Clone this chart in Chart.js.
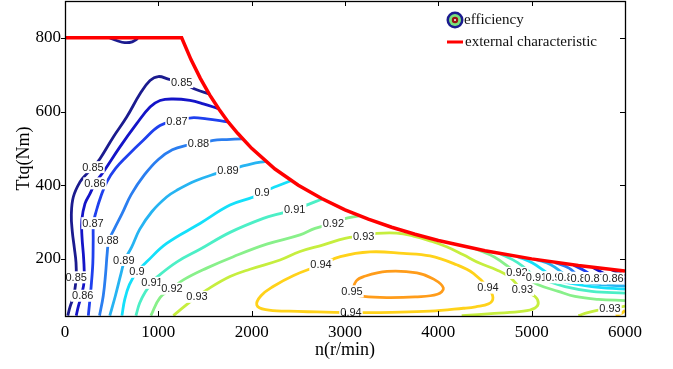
<!DOCTYPE html>
<html>
<head>
<meta charset="utf-8">
<script src="https://cdn.jsdelivr.net/npm/chart.js@4.4.1/dist/chart.umd.min.js"></script>
<style>
html, body { margin: 0; padding: 0; background: #fff; }
#wrap { width: 673px; height: 369px; }
</style>
</head>
<body>
<div id="wrap"><canvas id="effChart" width="673" height="369"></canvas></div>
<script>
// axis ticks
const xTicks = [0, 1000, 2000, 3000, 4000, 5000, 6000];
const yTicks = [200, 400, 600, 800];

// external characteristic (speed r/min, torque Nm)
const externalCurve = [[0, 800], [1250, 800], [1350, 741], [1450, 690], [1550, 645], [1650, 606], [1750, 571],
  [1850, 541], [2000, 500], [2250, 444], [2500, 400], [2750, 364], [3000, 333], [3250, 308], [3500, 286],
  [3750, 267], [4000, 250], [4500, 222], [5000, 200], [5500, 182], [6000, 167]];

// efficiency contour lines, [speed, torque]
const c085Top = [[480, 800], [560, 792], [640, 787], [720, 789], [780, 798]];
const c085 = [[30, 46], [54, 70], [89, 95], [110, 125], [120, 150], [118, 190], [100, 230], [78, 275], [68, 320],
  [89, 368], [161, 409], [230, 430], [300, 449], [375, 472], [518, 531], [661, 585], [804, 648], [911, 684],
  [1000, 695], [1107, 688], [1250, 678], [1411, 659], [1540, 648]];
const c086 = [[120, 46], [143, 71], [175, 100], [205, 140], [200, 200], [182, 260], [180, 305], [214, 350],
  [268, 377], [321, 405], [411, 436], [589, 504], [768, 567], [911, 612], [1018, 630], [1161, 634], [1339, 630],
  [1482, 621], [1640, 608]];
const c087 = [[250, 46], [280, 125], [298, 188], [302, 250], [305, 297], [335, 330], [385, 370], [450, 410],
  [540, 445], [661, 478], [839, 522], [1018, 562], [1200, 575], [1357, 583], [1518, 580], [1740, 572]];
const c088 = [[370, 46], [410, 100], [435, 160], [452, 215], [470, 250], [530, 282], [610, 322], [710, 375],
  [850, 428], [1000, 470], [1150, 496], [1304, 508], [1430, 513], [1589, 522], [1732, 524], [1900, 526]];
const c089 = [[480, 46], [540, 100], [600, 160], [640, 197], [714, 232], [800, 280], [930, 328], [1089, 368],
  [1196, 386], [1400, 412], [1625, 432], [1746, 441], [1875, 450], [2000, 458], [2150, 465]];
const c090 = [[610, 46], [640, 90], [690, 130], [771, 165], [875, 192], [1089, 242], [1446, 296], [1768, 346],
  [2018, 368], [2111, 381], [2268, 397], [2420, 412]];
const c091 = [[760, 46], [800, 80], [860, 110], [932, 135], [982, 150], [1200, 192], [1446, 226], [1768, 272],
  [2125, 310], [2304, 323], [2461, 333], [2589, 346], [2750, 362]];
const c092 = [[920, 46], [1018, 95], [1146, 119], [1268, 143], [1518, 175], [1804, 206], [2161, 240],
  [2518, 265], [2679, 283], [2875, 297], [2982, 308], [3150, 317]];
const c093 = [[1161, 46], [1300, 75], [1414, 97], [1518, 116], [1768, 152], [1982, 172], [2304, 197],
  [2518, 220], [2768, 238], [3000, 256], [3200, 262], [3339, 269], [3554, 270], [3732, 262], [3911, 249],
  [4089, 233], [4268, 211], [4446, 188], [4625, 170], [4768, 150], [4900, 116], [5036, 98], [5071, 80],
  [5036, 67], [4911, 58], [4600, 52], [4250, 46]];
const c093Corner = [[5500, 46], [5600, 54], [5700, 60], [5839, 65], [6000, 72]];
const c094 = [[3064, 54], [2700, 56], [2400, 58], [2150, 62], [2055, 75], [2100, 100], [2230, 125], [2450, 155],
  [2743, 184], [2950, 206], [3268, 219], [3625, 215], [3911, 208], [4196, 184], [4375, 161], [4532, 122],
  [4585, 95], [4540, 78], [4400, 70], [4268, 66], [3911, 58], [3500, 55], [3064, 54]];
const c094Corner = [[5900, 46], [5960, 52], [6000, 60]];
const c095 = [[3075, 112], [3120, 140], [3200, 152], [3450, 166], [3770, 162], [3950, 145], [4054, 121],
  [3990, 104], [3750, 97], [3450, 95], [3200, 98], [3090, 105], [3075, 112]];

// high-speed fan of contours running off the external curve
const c092Hs = [[4400, 227], [4600, 205], [4843, 162], [5071, 130], [5286, 112], [5464, 98], [5714, 90], [6000, 87]];
const c091Hs = [[4650, 215], [4850, 190], [5052, 150], [5143, 142], [5357, 125], [5643, 112], [6000, 107]];
const c090Hs = [[4850, 206], [5000, 190], [5150, 165], [5229, 150], [5321, 139], [5643, 125], [6000, 118]];
const c089Hs = [[5050, 198], [5200, 185], [5330, 162], [5391, 150], [5500, 139], [5750, 130], [6000, 126]];
const c088Hs = [[5250, 190], [5400, 175], [5480, 158], [5532, 148], [5650, 141], [6000, 134]];
const c087Hs = [[5450, 183], [5580, 166], [5679, 148], [5800, 143], [6000, 140]];
const c086Hs = [[5650, 177], [5780, 160], [5871, 148], [6000, 146]];
const c085Hs = [[5850, 171], [5950, 160], [6000, 155]];

// inline contour labels [text, speed, torque]
const contourLabels = [
  ['0.85', 300, 449], ['0.85', 1250, 680], ['0.85', 120, 150],
  ['0.86', 321, 405], ['0.86', 190, 100],
  ['0.87', 1200, 572], ['0.87', 300, 297],
  ['0.88', 1430, 513], ['0.88', 461, 249],
  ['0.89', 630, 197], ['0.89', 1746, 441],
  ['0.9', 771, 165], ['0.9', 2111, 381],
  ['0.91', 932, 135], ['0.91', 2461, 333],
  ['0.92', 1146, 119], ['0.92', 2875, 297],
  ['0.93', 1414, 97], ['0.93', 3200, 262], ['0.93', 4900, 116], ['0.93', 5839, 65],
  ['0.94', 2743, 184], ['0.94', 3064, 54], ['0.94', 4532, 122],
  ['0.95', 3075, 112],
  ['0.92', 4843, 162], ['0.91', 5052, 150], ['0.9', 5229, 150], ['0.89', 5391, 149],
  ['0.88', 5532, 148], ['0.87', 5679, 147], ['0.86', 5871, 147]
];

const levelColors = {
  '0.85': '#1b1b8f', '0.86': '#1414c8', '0.87': '#1f40ee', '0.88': '#2a7ef0', '0.89': '#26b4f2',
  '0.9': '#14e0fa', '0.91': '#4cefc6', '0.92': '#88f08a', '0.93': '#c6ee3e', '0.94': '#ffd21a', '0.95': '#ff9c1a'
};

const contourLines = [
  ['0.85', c085Top], ['0.85', c085], ['0.86', c086], ['0.87', c087], ['0.88', c088], ['0.89', c089],
  ['0.9', c090], ['0.91', c091], ['0.92', c092], ['0.93', c093], ['0.93', c093Corner], ['0.94', c094],
  ['0.94', c094Corner], ['0.95', c095],
  ['0.92', c092Hs], ['0.91', c091Hs], ['0.9', c090Hs], ['0.89', c089Hs], ['0.88', c088Hs],
  ['0.87', c087Hs], ['0.86', c086Hs], ['0.85', c085Hs]
];

function toPoints(arr) {
  return arr.map(function (p) { return { x: p[0], y: p[1] }; });
}

// red curve is dataset 0 so it is drawn last, on top of the contours
const datasets = [{
  label: 'external characteristic',
  data: toPoints(externalCurve),
  borderColor: '#ff0000',
  borderWidth: 3.5,
  pointRadius: 0,
  showLine: true,
  tension: 0,
  fill: false
}];

contourLines.forEach(function (line) {
  datasets.push({
    label: 'efficiency ' + line[0],
    data: toPoints(line[1]),
    borderColor: levelColors[line[0]],
    borderWidth: 2.8,
    pointRadius: 0,
    showLine: true,
    tension: 0.4,
    fill: false
  });
});

const serif = 'Liberation Serif, Times New Roman, serif';

// keep the plot box fixed: no extra room for overhanging tick labels
function noOverhang(scale) {
  scale.paddingTop = 0;
  scale.paddingBottom = 0;
  scale.paddingLeft = 0;
  scale.paddingRight = 0;
}

const mapDecor = {
  id: 'mapDecor',
  afterDatasetDraw(chart, args) {
    // labels sit on top of the contours but under the external curve
    if (args.index !== 1) return;
    const ctx = chart.ctx;
    const xs = chart.scales.x, ys = chart.scales.y;
    ctx.save();
    ctx.font = '11px "Liberation Sans", Arial, sans-serif';
    ctx.textAlign = 'center';
    ctx.textBaseline = 'middle';
    contourLabels.forEach(function (lab) {
      const px = xs.getPixelForValue(lab[1]);
      const py = ys.getPixelForValue(lab[2]);
      const w = ctx.measureText(lab[0]).width;
      ctx.fillStyle = '#ffffff';
      ctx.fillRect(px - w / 2 - 1, py - 6, w + 2, 12);
      ctx.fillStyle = '#222222';
      ctx.fillText(lab[0], px, py + 0.5);
    });
    ctx.restore();
  },
  afterDraw(chart) {
    const ctx = chart.ctx;
    const a = chart.chartArea;
    const xs = chart.scales.x, ys = chart.scales.y;
    ctx.save();

    // frame
    ctx.strokeStyle = '#000';
    ctx.lineWidth = 1.3;
    ctx.strokeRect(Math.round(a.left) + 0.5, Math.round(a.top) + 0.5,
      Math.round(a.right - a.left), Math.round(a.bottom - a.top));

    // tick marks: outward on the left, inward elsewhere
    ctx.lineWidth = 1;
    ctx.beginPath();
    xTicks.forEach(function (v) {
      const px = Math.round(xs.getPixelForValue(v)) + 0.5;
      ctx.moveTo(px, a.bottom); ctx.lineTo(px, a.bottom - 5);
      ctx.moveTo(px, a.top); ctx.lineTo(px, a.top + 5);
    });
    yTicks.forEach(function (v) {
      const py = Math.round(ys.getPixelForValue(v)) + 0.5;
      ctx.moveTo(a.left - 4, py); ctx.lineTo(a.left, py);
      ctx.moveTo(a.right, py); ctx.lineTo(a.right - 5, py);
    });
    ctx.stroke();

    // legend
    const lx = 455, ly1 = 20, ly2 = 42;
    ctx.fillStyle = '#1b1b8f';
    ctx.beginPath(); ctx.arc(lx, ly1, 8.5, 0, Math.PI * 2); ctx.fill();
    ctx.fillStyle = '#7ae27a';
    ctx.beginPath(); ctx.arc(lx, ly1, 6, 0, Math.PI * 2); ctx.fill();
    ctx.fillStyle = '#9a1212';
    ctx.beginPath(); ctx.arc(lx, ly1, 3.2, 0, Math.PI * 2); ctx.fill();
    ctx.fillStyle = '#ffffff';
    ctx.beginPath(); ctx.arc(lx, ly1, 1, 0, Math.PI * 2); ctx.fill();

    ctx.strokeStyle = '#ff0000';
    ctx.lineWidth = 3;
    ctx.beginPath(); ctx.moveTo(447, ly2); ctx.lineTo(463, ly2); ctx.stroke();

    ctx.fillStyle = '#111';
    ctx.font = '15px ' + serif;
    ctx.textAlign = 'left';
    ctx.textBaseline = 'middle';
    ctx.fillText('efficiency', 464, ly1);
    ctx.fillText('external characteristic', 465, ly2);
    ctx.restore();
  }
};

new Chart(document.getElementById('effChart'), {
  type: 'scatter',
  data: { datasets: datasets },
  options: {
    responsive: false,
    animation: false,
    layout: { padding: { top: 1, right: 48, left: 0, bottom: 0 } },
    plugins: { legend: { display: false }, tooltip: { enabled: false } },
    scales: {
      x: {
        type: 'linear',
        min: 0,
        max: 6000,
        grid: { display: false, drawTicks: false },
        border: { display: false },
        afterBuildTicks: function (scale) { scale.ticks = xTicks.map(function (v) { return { value: v }; }); },
        afterFit: function (scale) { scale.height = 53; noOverhang(scale); },
        ticks: { color: '#000', padding: 6, maxRotation: 0, font: { family: serif, size: 17 },
          callback: function (v) { return String(v); } },
        title: { display: true, text: 'n(r/min)', color: '#000', font: { family: serif, size: 18 },
          padding: { top: 0, bottom: 8 } }
      },
      y: {
        type: 'linear',
        min: 45,
        max: 900,
        grid: { display: false, drawTicks: false },
        border: { display: false },
        afterBuildTicks: function (scale) { scale.ticks = yTicks.map(function (v) { return { value: v }; }); },
        afterFit: function (scale) { scale.width = 65; noOverhang(scale); },
        ticks: { color: '#000', padding: 4, font: { family: serif, size: 17 },
          callback: function (v) { return String(v); } },
        title: { display: true, text: 'Ttq(Nm)', color: '#000', font: { family: serif, size: 18 },
          padding: { top: 13, bottom: 0 } }
      }
    }
  },
  plugins: [mapDecor]
});
</script>
</body>
</html>
